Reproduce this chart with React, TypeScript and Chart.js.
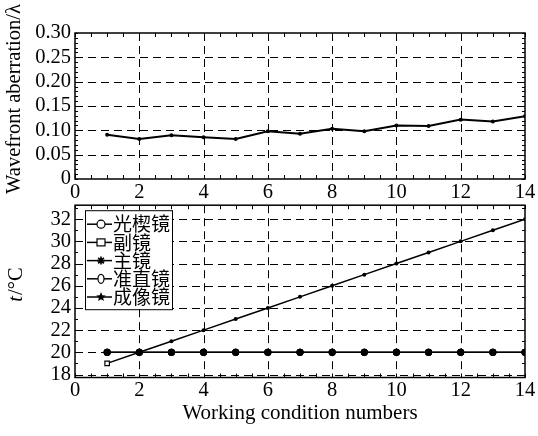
import React, { useEffect, useRef } from "react";
import { Chart, registerables } from "chart.js";

Chart.register(...registerables);

// ---------------- data ----------------
const conditions = [1, 2, 3, 4, 5, 6, 7, 8, 9, 10, 11, 12, 13, 14];
const wavefront = [0.091, 0.082, 0.090, 0.086, 0.082, 0.098, 0.093, 0.103, 0.098, 0.110, 0.109, 0.122, 0.118, 0.129];

const wedgeTemp = [20, 20, 20, 20, 20, 20, 20, 20, 20, 20, 20, 20, 20, 20];
const secondaryTemp = [19, 20, 21, 22, 23, 24, 25, 26, 27, 28, 29, 30, 31, 32];
const primaryTemp = [20, 20, 20, 20, 20, 20, 20, 20, 20, 20, 20, 20, 20, 20];
const collimatorTemp = [20, 20, 20, 20, 20, 20, 20, 20, 20, 20, 20, 20, 20, 20];
const imagingTemp = [20, 20, 20, 20, 20, 20, 20, 20, 20, 20, 20, 20, 20, 20];

const legendLabels = ["光楔镜", "副镜", "主镜", "准直镜", "成像镜"];
const legendMarkers = ["circle", "rect", "asterisk", "diamond", "star"];

const xTicks = [0, 2, 4, 6, 8, 10, 12, 14];
const topYTicks = [0, 0.05, 0.1, 0.15, 0.2, 0.25, 0.3];
const bottomYTicks = [18, 20, 22, 24, 26, 28, 30, 32];

const topYTitle = "Wavefront aberration/λ";
const xTitle = "Working condition numbers";

// ---------------- styling ----------------
const SERIF = "'Liberation Serif', 'DejaVu Serif', 'Times New Roman', serif";
const CJK = "'Noto Sans CJK SC', 'Noto Sans', sans-serif";
const TICK_FONT = { family: SERIF, size: 20.5 };

const toPoints = (ys: number[]) => conditions.map((c, i) => ({ x: c, y: ys[i] }));

function framePlugin(xMajors: number[], yMajors: number[], xMinor: number, yMinor: number) {
  return {
    id: "frame",
    beforeDatasetsDraw(chart: any) {
      const { ctx, chartArea: a, scales } = chart;
      const x = scales.x;
      const y = scales.y;
      ctx.save();
      ctx.strokeStyle = "#000";
      ctx.lineWidth = 1;
      ctx.setLineDash([8, 5]);
      ctx.beginPath();
      for (const v of xMajors) {
        const px = Math.round(x.getPixelForValue(v)) + 0.5;
        if (px <= a.left + 2 || px >= a.right - 2) continue;
        ctx.moveTo(px, a.top);
        ctx.lineTo(px, a.bottom);
      }
      for (const v of yMajors) {
        const py = Math.round(y.getPixelForValue(v)) + 0.5;
        if (py <= a.top + 1 || py >= a.bottom - 1) continue;
        ctx.moveTo(a.left, py);
        ctx.lineTo(a.right, py);
      }
      ctx.stroke();
      ctx.setLineDash([]);
      // minor ticks, inward
      ctx.beginPath();
      const xs = Math.ceil(x.min / xMinor - 1e-9);
      const xe = Math.floor(x.max / xMinor + 1e-9);
      for (let k = xs; k <= xe; k++) {
        const px = Math.round(x.getPixelForValue(k * xMinor)) + 0.5;
        ctx.moveTo(px, a.bottom);
        ctx.lineTo(px, a.bottom - 4);
        ctx.moveTo(px, a.top);
        ctx.lineTo(px, a.top + 4);
      }
      const ys = Math.ceil(y.min / yMinor - 1e-9);
      const ye = Math.floor(y.max / yMinor + 1e-9);
      for (let k = ys; k <= ye; k++) {
        const py = Math.round(y.getPixelForValue(k * yMinor)) + 0.5;
        ctx.moveTo(a.left, py);
        ctx.lineTo(a.left + 3, py);
        ctx.moveTo(a.right, py);
        ctx.lineTo(a.right - 3, py);
      }
      ctx.stroke();
      ctx.lineWidth = 1.5;
      ctx.strokeRect(a.left, a.top, a.right - a.left, a.bottom - a.top);
      ctx.restore();
    },
  };
}

function drawMarker(ctx: CanvasRenderingContext2D, kind: string, cx: number, cy: number) {
  ctx.save();
  ctx.strokeStyle = "#000";
  ctx.fillStyle = "#000";
  ctx.lineWidth = 1.2;
  if (kind === "circle") {
    ctx.beginPath();
    ctx.arc(cx, cy, 4, 0, Math.PI * 2);
    ctx.fillStyle = "#fff";
    ctx.fill();
    ctx.stroke();
  } else if (kind === "rect") {
    ctx.fillStyle = "#fff";
    ctx.fillRect(cx - 4, cy - 3.5, 8, 7);
    ctx.strokeRect(cx - 4, cy - 3.5, 8, 7);
  } else if (kind === "asterisk") {
    ctx.beginPath();
    for (let i = 0; i < 4; i++) {
      const ang = (i * Math.PI) / 4;
      ctx.moveTo(cx - 4 * Math.cos(ang), cy - 4 * Math.sin(ang));
      ctx.lineTo(cx + 4 * Math.cos(ang), cy + 4 * Math.sin(ang));
    }
    ctx.lineWidth = 1.6;
    ctx.stroke();
  } else if (kind === "diamond") {
    ctx.beginPath();
    ctx.ellipse(cx, cy, 3, 4.5, 0, 0, Math.PI * 2);
    ctx.fillStyle = "#fff";
    ctx.fill();
    ctx.stroke();
  } else if (kind === "star") {
    ctx.beginPath();
    for (let i = 0; i < 10; i++) {
      const r = i % 2 === 0 ? 5 : 2.2;
      const ang = -Math.PI / 2 + (i * Math.PI) / 5;
      const px = cx + r * Math.cos(ang);
      const py = cy + r * Math.sin(ang);
      if (i === 0) ctx.moveTo(px, py);
      else ctx.lineTo(px, py);
    }
    ctx.closePath();
    ctx.fill();
  }
  ctx.restore();
}

const legendPlugin = {
  id: "boxLegend",
  afterDatasetsDraw(chart: any) {
    const { ctx, chartArea: a } = chart;
    const left = a.left + 10;
    const top = a.top + 5;
    const w = 87;
    const h = 99;
    ctx.save();
    ctx.fillStyle = "#fff";
    ctx.fillRect(left, top, w, h);
    ctx.strokeStyle = "#000";
    ctx.lineWidth = 1;
    ctx.strokeRect(left + 0.5, top + 0.5, w, h);
    ctx.font = `19px ${CJK}`;
    ctx.textBaseline = "middle";
    ctx.textAlign = "left";
    legendLabels.forEach((label, i) => {
      const cy = top + 14 + i * 18.2;
      ctx.beginPath();
      ctx.lineWidth = 1.5;
      ctx.moveTo(left + 2, cy);
      ctx.lineTo(left + 27, cy);
      ctx.stroke();
      drawMarker(ctx, legendMarkers[i], left + 16, cy);
      ctx.fillStyle = "#000";
      ctx.fillText(label, left + 28, cy);
    });
    ctx.restore();
  },
};

const topTitlePlugin = {
  id: "topTitle",
  afterDraw(chart: any) {
    const { ctx } = chart;
    ctx.save();
    ctx.translate(15, 99);
    ctx.rotate(-Math.PI / 2);
    ctx.font = `20.5px ${SERIF}`;
    ctx.fillStyle = "#000";
    ctx.textAlign = "center";
    ctx.textBaseline = "middle";
    ctx.fillText(topYTitle, 0, 0);
    ctx.restore();
  },
};

const bottomTitlePlugin = {
  id: "bottomTitle",
  afterDraw(chart: any) {
    const { ctx, chartArea: a } = chart;
    ctx.save();
    ctx.fillStyle = "#000";
    // y title: italic t + "/°C"
    ctx.translate(17, 85);
    ctx.rotate(-Math.PI / 2);
    ctx.textBaseline = "middle";
    ctx.font = `italic 20.5px ${SERIF}`;
    const tW = ctx.measureText("t").width;
    ctx.font = `20.5px ${SERIF}`;
    const rW = ctx.measureText("/°C").width;
    const start = -(tW + rW) / 2;
    ctx.textAlign = "left";
    ctx.font = `italic 20.5px ${SERIF}`;
    ctx.fillText("t", start, 0);
    ctx.font = `20.5px ${SERIF}`;
    ctx.fillText("/°C", start + tW + 1, 0);
    ctx.restore();
    // x title
    ctx.save();
    ctx.fillStyle = "#000";
    ctx.font = `21px ${SERIF}`;
    ctx.textAlign = "center";
    ctx.textBaseline = "middle";
    ctx.fillText(xTitle, (a.left + a.right) / 2, 213);
    ctx.restore();
  },
};

function xScale(pad: number, height: number) {
  return {
    type: "linear" as const,
    min: 0,
    max: 14,
    grid: { display: false, drawTicks: false },
    border: { display: false },
    afterBuildTicks: (s: any) => {
      s.ticks = xTicks.map((v) => ({ value: v }));
    },
    afterFit: (s: any) => {
      s.height = height;
      s.paddingLeft = 0;
      s.paddingRight = 0;
    },
    ticks: {
      font: TICK_FONT,
      color: "#000",
      padding: pad,
      maxRotation: 0,
      autoSkip: false,
      callback: (v: any) => String(v),
    },
  };
}

export default function App() {
  const topRef = useRef<HTMLCanvasElement | null>(null);
  const botRef = useRef<HTMLCanvasElement | null>(null);

  useEffect(() => {
    const topChart = new Chart(topRef.current as HTMLCanvasElement, {
      type: "line",
      data: {
        datasets: [
          {
            data: toPoints(wavefront),
            borderColor: "#000",
            backgroundColor: "#000",
            borderWidth: 2,
            pointRadius: 2,
            pointBorderWidth: 0,
            tension: 0,
          },
        ],
      },
      options: {
        animation: false,
        responsive: false,
        events: [],
        layout: { padding: { top: 33, right: 13, left: 0, bottom: 0 } },
        plugins: { legend: { display: false }, tooltip: { enabled: false } },
        scales: {
          x: xScale(1, 21),
          y: {
            type: "linear",
            min: 0,
            max: 0.3,
            grid: { display: false, drawTicks: false },
            border: { display: false },
            afterBuildTicks: (s: any) => {
              s.ticks = topYTicks.map((v) => ({ value: v }));
            },
            afterFit: (s: any) => {
              s.width = 75;
              s.paddingTop = 0;
              s.paddingBottom = 0;
            },
            ticks: {
              font: TICK_FONT,
              color: "#000",
              padding: 4,
              autoSkip: false,
              callback: (v: any) => (Number(v) === 0 ? "0" : Number(v).toFixed(2)),
            },
          },
        },
      },
      plugins: [framePlugin(xTicks, topYTicks, 0.5, 0.01), topTitlePlugin],
    } as any);

    const flatStyle = {
      borderColor: "#000",
      backgroundColor: "#000",
      borderWidth: 1.2,
      pointRadius: 3.5,
      pointBorderWidth: 0,
      pointStyle: "circle",
      tension: 0,
    };

    const botChart = new Chart(botRef.current as HTMLCanvasElement, {
      type: "line",
      data: {
        datasets: [
          { label: legendLabels[0], data: toPoints(wedgeTemp), ...flatStyle },
          {
            label: legendLabels[1],
            data: toPoints(secondaryTemp),
            borderColor: "#000",
            borderWidth: 1.5,
            tension: 0,
            pointStyle: (c: any) => (c.dataIndex === 0 ? "rect" : "circle"),
            pointRadius: (c: any) => (c.dataIndex === 0 ? 3.2 : 2),
            pointBackgroundColor: (c: any) => (c.dataIndex === 0 ? "#fff" : "#000"),
            pointBorderColor: "#000",
            pointBorderWidth: (c: any) => (c.dataIndex === 0 ? 1.2 : 0),
          },
          { label: legendLabels[2], data: toPoints(primaryTemp), ...flatStyle },
          { label: legendLabels[3], data: toPoints(collimatorTemp), ...flatStyle },
          { label: legendLabels[4], data: toPoints(imagingTemp), ...flatStyle },
        ],
      },
      options: {
        animation: false,
        responsive: false,
        events: [],
        layout: { padding: { top: 5, right: 13, left: 0, bottom: 0 } },
        plugins: { legend: { display: false }, tooltip: { enabled: false } },
        scales: {
          x: xScale(1, 58.5),
          y: {
            type: "linear",
            min: 17.73,
            max: 33.26,
            grid: { display: false, drawTicks: false },
            border: { display: false },
            afterBuildTicks: (s: any) => {
              s.ticks = bottomYTicks.map((v) => ({ value: v }));
            },
            afterFit: (s: any) => {
              s.width = 75;
              s.paddingTop = 0;
              s.paddingBottom = 0;
            },
            ticks: {
              font: TICK_FONT,
              color: "#000",
              padding: 4,
              autoSkip: false,
              callback: (v: any) => String(v),
            },
          },
        },
      },
      plugins: [framePlugin(xTicks, bottomYTicks, 0.5, 1), legendPlugin, bottomTitlePlugin],
    } as any);

    return () => {
      topChart.destroy();
      botChart.destroy();
    };
  }, []);

  return (
    <div style={{ position: "absolute", left: 0, top: 0, width: 538, height: 436, background: "#fff" }}>
      <canvas ref={topRef} width={538} height={200} style={{ position: "absolute", left: 0, top: 0, width: 538, height: 200 }} />
      <canvas ref={botRef} width={538} height={236} style={{ position: "absolute", left: 0, top: 200, width: 538, height: 236 }} />
    </div>
  );
}
